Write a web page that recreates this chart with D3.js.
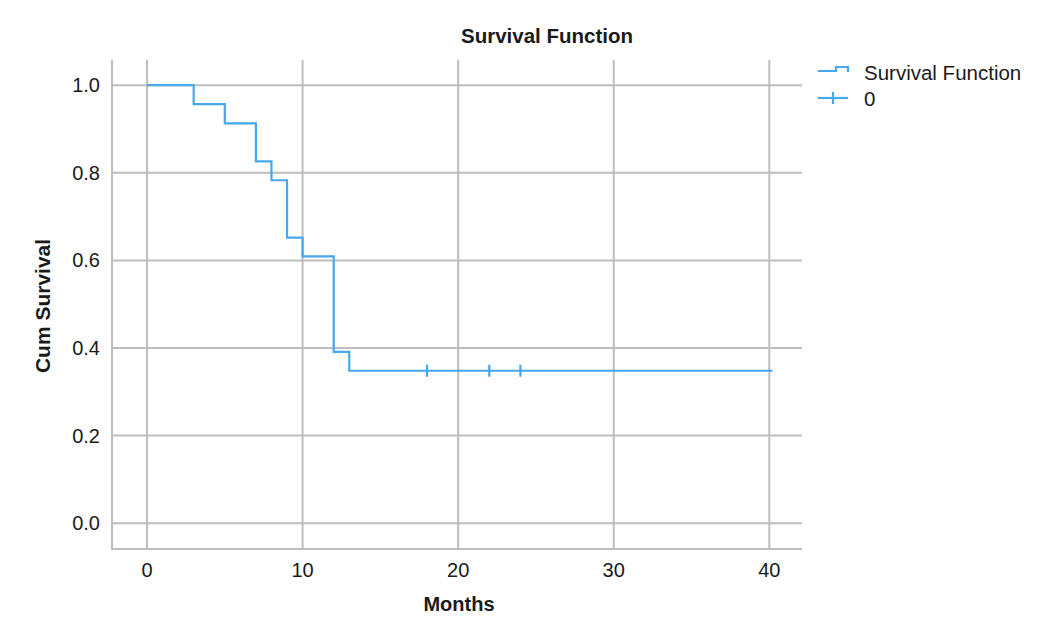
<!DOCTYPE html>
<html>
<head>
<meta charset="utf-8">
<script src="https://cdn.jsdelivr.net/npm/d3@7"></script>
<style>
  html, body { margin: 0; padding: 0; background: #fff; }
  svg { display: block; font-family: "Liberation Sans", Arial, sans-serif; }
</style>
</head>
<body>
<div id="chart"></div>
<script>
/* ============================
   DATA
============================ */
// tiempos de evento (meses) y supervivencia acumulada despues de cada caida
const stepTimes = [0, 3, 5, 7, 8, 9, 10, 12, 13];
const stepSurv  = [1.0, 0.957, 0.913, 0.826, 0.783, 0.652, 0.609, 0.391, 0.348];
const lastTime = 40.2;
// censurados
const censorTimes = [18, 22, 24];
const xTicks = [0, 10, 20, 30, 40];
const yTicks = [0.0, 0.2, 0.4, 0.6, 0.8, 1.0];

/* ============================
   LAYOUT
============================ */
const W = 1048, H = 619;
const M = { left: 112, right: 802, top: 60, bottom: 549 };
const blue = "#45a8ec";
const grid = "#bdbdbd";
const ink = "#1a1a1a";

const x = d3.scaleLinear().domain([-2.25, 42.1]).range([M.left, M.right]);
const y = d3.scaleLinear().domain([-0.059, 1.053]).range([M.bottom, 62]);

const svg = d3.select("#chart").append("svg")
  .attr("width", W).attr("height", H);

// grid
svg.append("g").selectAll("line").data(yTicks).enter().append("line")
  .attr("x1", M.left).attr("x2", M.right)
  .attr("y1", d => y(d)).attr("y2", d => y(d))
  .attr("stroke", grid).attr("stroke-width", 2);

svg.append("g").selectAll("line").data(xTicks).enter().append("line")
  .attr("x1", d => x(d)).attr("x2", d => x(d))
  .attr("y1", M.top).attr("y2", M.bottom)
  .attr("stroke", grid).attr("stroke-width", 2);

// axis lines
svg.append("line").attr("x1", M.left).attr("x2", M.left).attr("y1", M.top).attr("y2", M.bottom + 1)
  .attr("stroke", grid).attr("stroke-width", 2);
svg.append("line").attr("x1", M.left - 1).attr("x2", M.right).attr("y1", M.bottom).attr("y2", M.bottom)
  .attr("stroke", grid).attr("stroke-width", 2);

// tick labels
svg.append("g").selectAll("text").data(xTicks).enter().append("text")
  .attr("x", d => x(d)).attr("y", 577)
  .attr("text-anchor", "middle")
  .attr("font-size", 20).attr("fill", ink)
  .text(d => d);

svg.append("g").selectAll("text").data(yTicks).enter().append("text")
  .attr("x", 100).attr("y", d => y(d) + 7)
  .attr("text-anchor", "end")
  .attr("font-size", 20).attr("fill", ink)
  .text(d => d.toFixed(1));

// titles
svg.append("text").attr("x", 547).attr("y", 43).attr("text-anchor", "middle")
  .attr("font-size", 20.5).attr("font-weight", "bold").attr("fill", ink)
  .text("Survival Function");
svg.append("text").attr("x", 459).attr("y", 611).attr("text-anchor", "middle")
  .attr("font-size", 20).attr("font-weight", "bold").attr("fill", ink)
  .text("Months");
svg.append("text")
  .attr("transform", `translate(50, 306) rotate(-90)`)
  .attr("text-anchor", "middle")
  .attr("font-size", 21).attr("font-weight", "bold").attr("fill", ink)
  .text("Cum Survival");

/* ============================
   CURVA
============================ */
const pts = stepTimes.map((t, i) => [t, stepSurv[i]]);
pts.push([lastTime, stepSurv[stepSurv.length - 1]]);

const line = d3.line()
  .x(d => x(d[0])).y(d => y(d[1]))
  .curve(d3.curveStepAfter);

svg.append("path").datum(pts)
  .attr("d", line)
  .attr("fill", "none")
  .attr("stroke", blue).attr("stroke-width", 2.2);

// marcas de censura
function survAt(t) {
  let s = 1;
  stepTimes.forEach((st, i) => { if (st <= t) s = stepSurv[i]; });
  return s;
}
svg.append("g").selectAll("line").data(censorTimes).enter().append("line")
  .attr("x1", d => x(d)).attr("x2", d => x(d))
  .attr("y1", d => y(survAt(d)) - 6).attr("y2", d => y(survAt(d)) + 6)
  .attr("stroke", blue).attr("stroke-width", 2.2);

/* ============================
   LEYENDA
============================ */
const lg = svg.append("g");
lg.append("path")
  .attr("d", "M818,71 H836 V67 H848 V72")
  .attr("fill", "none").attr("stroke", blue).attr("stroke-width", 2.2);
lg.append("text").attr("x", 864).attr("y", 80)
  .attr("font-size", 20.5).attr("fill", ink).text("Survival Function");
lg.append("line").attr("x1", 818).attr("x2", 848).attr("y1", 98).attr("y2", 98)
  .attr("stroke", blue).attr("stroke-width", 2.2);
lg.append("line").attr("x1", 833).attr("x2", 833).attr("y1", 92).attr("y2", 104)
  .attr("stroke", blue).attr("stroke-width", 2.2);
lg.append("text").attr("x", 864).attr("y", 106)
  .attr("font-size", 20.5).attr("fill", ink).text("0");
</script>
</body>
</html>
